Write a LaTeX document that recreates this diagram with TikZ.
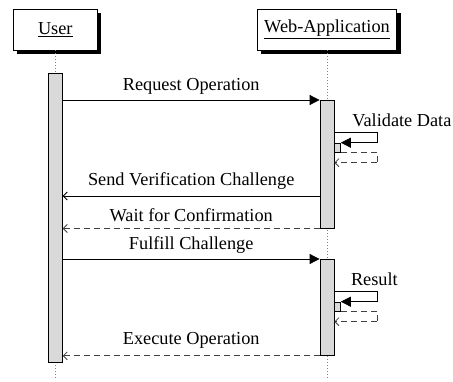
\documentclass[tikz,border=0pt]{standalone}
\usepackage{fontspec}
\setmainfont{Liberation Serif}
\usetikzlibrary{arrows.meta,shadows}
\begin{document}
\begin{tikzpicture}[x=1pt,y=-1pt,
  font=\fontsize{18.3}{22}\selectfont,
  inst/.style={draw, fill=white, line width=0.8pt, inner sep=0pt, minimum height=41pt,
    drop shadow={shadow xshift=4pt, shadow yshift=-4pt, fill=black, opacity=1}},
  act/.style={draw, fill=gray!30, line width=0.8pt, inner sep=0pt, minimum width=14pt, anchor=north},
  nest/.style={draw, fill=gray!30, line width=0.8pt, inner sep=0pt, minimum width=6pt, minimum height=9.3pt, anchor=north west},
  life/.style={gray, line width=0.7pt, dash pattern=on 0.8pt off 2.2pt},
  call/.style={line width=0.8pt, -{Triangle[length=10pt,width=10pt]}},
  reply/.style={line width=0.8pt, -{Straight Barb[length=4pt,width=8pt]}},
  ret/.style={black!75, line width=0.8pt, dash pattern=on 6pt off 4pt, -{Straight Barb[length=4pt,width=8pt]}},
  retline/.style={black!75, line width=0.8pt, dash pattern=on 6pt off 4pt},
  lbl/.style={anchor=base, inner sep=0pt}]
\useasboundingbox (0,0) rectangle (453,381);

% instances
\node[inst, minimum width=84pt] (user) at (55.3,29.5) {\underline{User}};
\node[inst, minimum width=139.7pt] (web) at (327,29.5) {\underline{Web-Application}};

% lifelines
\coordinate (uend) at (55.3,378);
\coordinate (wend) at (327,378);
\draw[life] (user.south) -- (uend);
\draw[life] (web.south) -- (wend);

% activations
\node[act, minimum height=289pt] (ua) at (55.3,73) {};
\node[act, minimum height=127.7pt] (wa1) at (327,100) {};
\node[act, minimum height=96pt] (wa2) at (327,259) {};
\node[nest] (n1) at (334,142.7) {};
\node[nest] (n2) at (334,301.7) {};

% Request Operation
\draw[call] (ua.east |- wa1.north) -- (wa1.north west);
\node[lbl] (l1) at (191.2,90) {Request Operation};

% Validate Data
\draw[call] (wa1.east |- 0,132.7) -- ++(42.7,0) -- ++(0,10) -- (n1.north east);
\draw[retline] (n1.south east) -- ++(36.7,0) -- ++(0,10.7);
\draw[ret] (376.7,162.7) -- (wa1.east |- 0,162.7);
\node[lbl] (l2) at (401.9,126) {Validate Data};

% Send Verification Challenge
\draw[reply] (wa1.west |- 0,196) -- (ua.east |- 0,196);
\node[lbl] (l3) at (191.2,185) {Send Verification Challenge};

% Wait for Confirmation
\draw[ret] (wa1.south west) -- (ua.east |- wa1.south);
\node[lbl] (l4) at (191.2,221) {Wait for Confirmation};

% Fulfill Challenge
\draw[call] (ua.east |- wa2.north) -- (wa2.north west);
\node[lbl] (l5) at (191.2,249) {Fulfill Challenge};

% Result
\draw[call] (wa2.east |- 0,291.7) -- ++(42.7,0) -- ++(0,10) -- (n2.north east);
\draw[retline] (n2.south east) -- ++(36.7,0) -- ++(0,10.7);
\draw[ret] (376.7,321.7) -- (wa2.east |- 0,321.7);
\node[lbl] (l6) at (374.4,285) {Result};

% Execute Operation
\draw[ret] (wa2.south west) -- (ua.east |- wa2.south);
\node[lbl] (l7) at (191.2,344) {Execute Operation};
\end{tikzpicture}
\end{document}
